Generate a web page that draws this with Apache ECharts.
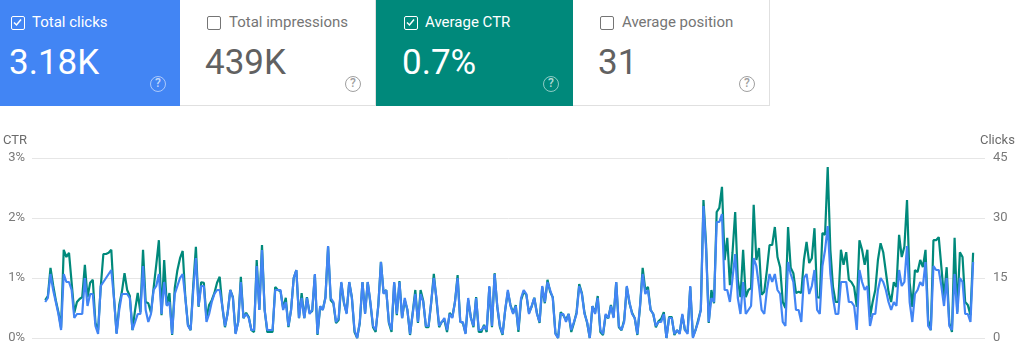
<!DOCTYPE html>
<html>
<head>
<meta charset="utf-8">
<script src="https://cdn.jsdelivr.net/npm/echarts@6/dist/echarts.min.js"></script>
<style>
  body { margin: 0; width: 1024px; height: 351px; overflow: hidden; background: #fff; font-family: Roboto, 'Noto Sans', sans-serif; }
  #chart { position: absolute; left: 0; top: 0; width: 1024px; height: 351px; }
  .card { position: absolute; top: 0; height: 106px; box-sizing: border-box; color: #fff; }
  .card.off { background: #fff; color: #5f6368; border-right: 1px solid #e0e0e0; border-bottom: 1px solid #e0e0e0; }
  .box { position: absolute; top: 16px; width: 14px; height: 14px; box-sizing: border-box; border: 1.5px solid currentColor; border-radius: 2px; }
  .off .box { border-color: #757575; }
  .box svg { position: absolute; left: 0; top: 0; }
  .label { position: absolute; top: 15px; font-size: 15px; line-height: 15px; white-space: nowrap; }
  .off .label { color: #757575; }
  .value { position: absolute; top: 45px; font-size: 35px; line-height: 35px; white-space: nowrap; }
  .off .value { color: #616161; }
  .help { position: absolute; right: 14px; top: 76px; width: 16px; height: 16px; box-sizing: border-box; border: 1.5px solid rgba(255,255,255,0.55); border-radius: 50%; color: rgba(255,255,255,0.7); font-size: 12px; line-height: 13px; text-align: center; font-weight: 500; }
  .off .help { border-color: #a0a0a0; color: #a0a0a0; }
</style>
</head>
<body>
<div id="chart"></div>

<div class="card" style="left:0;width:180px;background:#4285f4">
  <div class="box" style="left:11px"><svg width="11" height="11" viewBox="0 0 11 11"><polyline points="2,5.5 4.5,8 9,2.5" fill="none" stroke="#fff" stroke-width="1.5"/></svg></div>
  <div class="label" style="left:32px">Total clicks</div>
  <div class="value" style="left:9px">3.18K</div>
  <div class="help">?</div>
</div>
<div class="card off" style="left:180px;width:196px">
  <div class="box" style="left:27px"></div>
  <div class="label" style="left:49px">Total impressions</div>
  <div class="value" style="left:25px">439K</div>
  <div class="help">?</div>
</div>
<div class="card" style="left:376px;width:197px;background:#00897b">
  <div class="box" style="left:28px"><svg width="11" height="11" viewBox="0 0 11 11"><polyline points="2,5.5 4.5,8 9,2.5" fill="none" stroke="#fff" stroke-width="1.5"/></svg></div>
  <div class="label" style="left:49px">Average CTR</div>
  <div class="value" style="left:26px">0.7%</div>
  <div class="help">?</div>
</div>
<div class="card off" style="left:573px;width:197px">
  <div class="box" style="left:27px"></div>
  <div class="label" style="left:49px">Average position</div>
  <div class="value" style="left:25px">31</div>
  <div class="help">?</div>
</div>

<script>
// daily clicks (right axis)
const clicks = [
  9, 10, 16, 12, 9, 6, 2, 16, 14, 14, 12, 5, 6, 6, 6, 15, 8, 11, 11, 3,
  1, 13, 14, 15, 16, 17, 10, 1, 7, 11, 11, 11, 10, 2, 4, 6, 6, 18, 7, 4,
  6, 12, 13, 16, 6, 14, 8, 9, 1, 11, 13, 15, 16, 10, 3, 2, 12, 20, 8, 13,
  13, 4, 6, 9, 11, 12, 12,
  8, 3, 6, 12, 10, 1, 4, 14, 5, 6, 5, 2, 2, 18, 7, 22, 7, 2, 2, 2,
  12, 12, 12, 7, 9, 3, 7, 15, 17, 5, 10, 5, 10, 6, 7, 16, 1, 8, 7, 10,
  23, 10, 9, 4, 5, 14, 9, 6, 14, 10, 2, 0, 4, 14, 6, 14, 9, 3, 2, 8, 19,
  11, 12, 4, 2, 14, 6, 14, 5, 10, 7, 1, 6, 11, 4, 11, 9, 3, 3, 9, 15,
  10, 3, 4, 5, 2, 6, 5, 9, 15, 4, 4, 1, 10, 5, 3, 10, 2, 2, 3, 2,
  13, 3, 16, 8, 3, 1, 7, 12, 8, 6, 8, 2, 10, 12, 11, 6, 8, 10, 6, 4,
  13, 9, 14, 12, 10, 1, 0,
  6, 6, 4, 6, 2, 4, 6, 13, 11, 6, 4, 0, 8, 6, 10, 2, 1, 6, 5, 8,
  5, 14, 3, 2, 4, 13, 9, 6, 5, 1, 8, 16, 11, 12, 7, 6, 3, 4, 4, 6,
  0, 5, 5, 1, 2, 1, 6, 2, 1, 13, 0, 2, 4, 7, 33, 22, 4, 10, 9, 29,
  29, 31, 12, 12, 9, 15, 21, 10, 6, 14, 6, 7, 8, 20, 18, 13, 7, 6, 12, 16,
  14, 16, 12, 11, 4, 3, 19, 16, 14, 7, 7, 4, 15, 16, 11, 13, 17, 7, 6, 18,
  22, 28, 16, 10, 6, 6, 14, 14, 14, 9, 9, 8, 2, 17, 14, 12, 13, 3, 6, 6,
  12, 15, 14, 12, 9, 7, 9, 8, 17, 13, 14, 23, 9, 4, 11, 12, 14, 13, 19, 3,
  2, 18, 17, 17, 13, 8, 15, 3, 2, 16, 6, 15, 14, 6, 6, 4, 19
];

// daily CTR in % (left axis)
const ctr = [
  0.63, 0.70, 1.17, 0.88, 0.63, 0.43, 0.17, 1.47, 1.35, 1.42, 0.92, 0.42, 0.60, 0.65, 0.68, 1.22, 0.68, 0.92, 0.97, 0.25,
  0.13, 0.85, 1.40, 1.40, 1.42, 1.47, 0.68, 0.08, 0.55, 0.77, 1.08, 0.80, 0.70, 0.13, 0.47, 0.75, 0.43, 1.47, 0.60, 0.58,
  0.42, 0.83, 1.22, 1.63, 0.38, 1.30, 0.55, 0.75, 0.05, 0.83, 1.13, 1.33, 1.45, 0.68, 0.22, 0.13, 0.88, 1.52, 0.52, 0.93,
  0.92, 0.33, 0.55, 0.63, 0.75, 0.92, 1.02,
  0.52, 0.18, 0.42, 0.80, 0.68, 0.08, 0.27, 1.02, 0.33, 0.42, 0.35, 0.13, 0.10, 1.30, 0.47, 1.55, 0.47, 0.10, 0.10, 0.10,
  0.85, 0.80, 0.78, 0.50, 0.67, 0.18, 0.47, 1.00, 1.13, 0.33, 0.75, 0.33, 0.68, 0.42, 0.45, 1.05, 0.05, 0.52, 0.47, 0.68,
  1.52, 0.63, 0.58, 0.25, 0.30, 0.92, 0.58, 0.42, 0.93, 0.68, 0.10, 0.00, 0.25, 0.93, 0.42, 0.93, 0.58, 0.18, 0.10, 0.55, 1.27,
  0.75, 0.80, 0.25, 0.10, 0.92, 0.38, 0.95, 0.33, 0.63, 0.47, 0.05, 0.42, 0.80, 0.25, 0.80, 0.62, 0.18, 0.18, 0.58, 1.07,
  0.63, 0.18, 0.27, 0.30, 0.10, 0.42, 0.35, 0.60, 1.05, 0.27, 0.25, 0.08, 0.63, 0.35, 0.18, 0.68, 0.10, 0.10, 0.22, 0.10,
  0.85, 0.18, 1.08, 0.52, 0.18, 0.05, 0.47, 0.77, 0.55, 0.42, 0.55, 0.10, 0.63, 0.77, 0.72, 0.42, 0.52, 0.67, 0.42, 0.25,
  0.85, 0.58, 0.97, 0.77, 0.68, 0.08, 0.00,
  0.43, 0.38, 0.30, 0.40, 0.10, 0.25, 0.43, 0.90, 0.75, 0.42, 0.25, 0.00, 0.53, 0.42, 0.70, 0.10, 0.05, 0.38, 0.33, 0.55,
  0.35, 0.93, 0.18, 0.13, 0.30, 0.85, 0.58, 0.42, 0.33, 0.05, 0.52, 1.17, 0.80, 0.85, 0.47, 0.40, 0.18, 0.28, 0.32, 0.43,
  0.00, 0.35, 0.35, 0.05, 0.13, 0.08, 0.38, 0.13, 0.10, 0.85, 0.02, 0.13, 0.30, 0.47, 2.30, 1.55, 0.25, 0.80, 0.58, 2.10,
  2.17, 2.52, 1.30, 1.67, 0.88, 1.43, 2.10, 0.97, 0.68, 1.47, 0.68, 0.80, 0.83, 2.22, 1.30, 1.50, 0.72, 0.77, 1.13, 1.55,
  1.55, 1.85, 1.35, 1.18, 0.60, 0.50, 1.85, 1.17, 1.08, 0.75, 0.77, 0.75, 1.30, 1.60, 1.25, 1.33, 1.83, 0.68, 0.67, 1.75,
  1.72, 2.85, 1.47, 0.85, 0.60, 0.60, 1.47, 1.22, 1.43, 0.97, 0.93, 0.85, 0.52, 1.63, 1.47, 1.22, 1.47, 0.35, 0.60, 0.80,
  1.30, 1.58, 1.43, 1.10, 0.77, 0.60, 0.93, 0.85, 1.72, 1.35, 1.52, 2.30, 0.92, 0.52, 1.13, 1.10, 1.30, 1.18, 1.47, 0.30,
  0.13, 1.63, 1.63, 1.68, 1.18, 0.67, 1.18, 0.25, 0.10, 1.67, 0.43, 1.43, 1.35, 0.60, 0.55, 0.38, 1.42
];

const ctrTicks = [0, 1, 2, 3];
const clickTicks = [0, 15, 30, 45];

const chart = echarts.init(document.getElementById('chart'), null, { renderer: 'canvas' });
const lastDay = clicks.length - 1;

chart.setOption({
  animation: false,
  grid: { left: 32, right: 39, top: 158, bottom: 13 },
  xAxis: { type: 'value', min: -5, max: lastDay + 4.5, show: false },
  yAxis: [
    {
      type: 'value',
      position: 'left',
      min: ctrTicks[0],
      max: ctrTicks[ctrTicks.length - 1],
      interval: ctrTicks[1] - ctrTicks[0],
      axisLine: { show: false },
      axisTick: { show: false },
      axisLabel: { formatter: v => v + '%', color: '#7a7a7a', fontSize: 13, margin: 7, fontFamily: 'Roboto' },
      splitLine: { lineStyle: { color: '#e6e6e6', width: 1 } },
    },
    {
      type: 'value',
      position: 'right',
      min: clickTicks[0],
      max: clickTicks[clickTicks.length - 1],
      interval: clickTicks[1] - clickTicks[0],
      axisLine: { show: false },
      axisTick: { show: false },
      axisLabel: { color: '#7a7a7a', fontSize: 13, margin: 8, fontFamily: 'Roboto' },
      splitLine: { show: false },
    },
  ],
  graphic: [
    { type: 'text', left: 3, top: 134, style: { text: 'CTR', fill: '#6b6b6b', font: '13px Roboto' } },
    { type: 'text', left: 980, top: 134, style: { text: 'Clicks', fill: '#6b6b6b', font: '13px Roboto' } },
  ],
  series: [
    {
      name: 'Average CTR',
      type: 'line',
      yAxisIndex: 0,
      showSymbol: false,
      lineStyle: { color: '#00897b', width: 2.2 },
      data: ctr.map((v, i) => [i, v]),
    },
    {
      name: 'Total clicks',
      type: 'line',
      yAxisIndex: 1,
      showSymbol: false,
      lineStyle: { color: '#4285f4', width: 2.2 },
      data: clicks.map((v, i) => [i, v]),
    },
  ],
});
</script>
</body>
</html>
